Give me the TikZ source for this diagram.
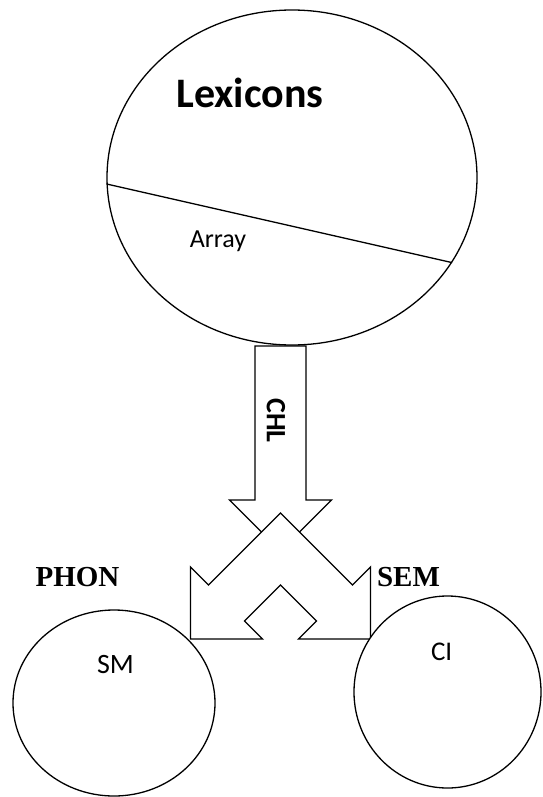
\documentclass[tikz,border=0pt]{standalone}
\usepackage{fontspec}
\setmainfont{Liberation Serif}
\setsansfont{Carlito}
\usetikzlibrary{shapes.geometric,positioning}
\tikzset{blob/.style={shape=ellipse, draw, fill=white, inner sep=0pt}}
\tikzset{blockarrow/.style={draw=black, fill=white, line join=miter}}
\tikzset{inlabel/.style={font=\sffamily\fontsize{27}{30}\selectfont, anchor=base}}
\tikzset{outlabel/.style={font=\rmfamily\bfseries\fontsize{29}{32}\selectfont, anchor=base}}

\begin{document}
\begin{tikzpicture}[x=1pt, y=-1pt, line width=1.3pt]
  \useasboundingbox (0,0) rectangle (542,797);

    %%%% Lexicons
    \node[blob, minimum width=370pt, minimum height=335pt] (lexicons) at (292,177.5) {};
    \draw (lexicons.182.9) -- (lexicons.-28);
    \node[anchor=base, font=\sffamily\bfseries\fontsize{42}{46}\selectfont] (lextitle) at (250,108) {Lexicons};
    \node[inlabel, font=\sffamily\fontsize{26}{29}\selectfont] (array) at (218,247) {Array};

    %%%% CHL arrow
    \coordinate (chltop) at (280.5,346);
    \coordinate (fork) at (280.5,513);
    \draw[blockarrow] (chltop) ++(-25.5,0) -- ++(0,154) -- ++(-25.5,0) -- ++(51,51)
      -- ++(51,-51) -- ++(-25.5,0) -- ++(0,-154) -- cycle;
    \node[rotate=-90, font=\sffamily\bfseries\fontsize{28}{30}\selectfont] (chl) at (276,420.5) {CHL};

    %%%% Fork to PHON and SEM
    \draw[blockarrow] (fork) -- ++(72,72) -- ++(18,-18) -- ++(0,72) -- ++(-72,0) -- ++(18,-18)
      -- ++(-36,-36) -- ++(-36,36) -- ++(18,18) -- ++(-72,0) -- ++(0,-72) -- ++(18,18) -- cycle;
    \node[outlabel] (phon) at (77.5,586.7) {PHON};
    \node[outlabel] (sem) at (408.5,586.7) {SEM};

    %%%% Interfaces
    \node[blob, minimum width=202pt, minimum height=186pt] (sm) at (114,703) {};
    \node[blob, minimum width=187pt, minimum height=192pt] (ci) at (447.5,692) {};
    \node[inlabel, font=\sffamily\fontsize{28}{30}\selectfont] (smtext) at (115.5,673) {SM};
    \node[inlabel] (citext) at (441.7,660.7) {CI};

\end{tikzpicture}
\end{document}
